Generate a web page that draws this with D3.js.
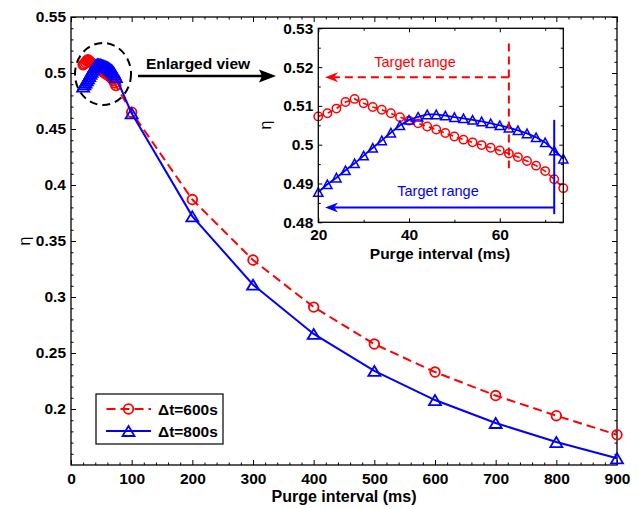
<!DOCTYPE html>
<html>
<head>
<meta charset="utf-8">
<script src="https://cdn.jsdelivr.net/npm/d3@7"></script>
<style>
  html, body { margin: 0; padding: 0; background: #fff; }
  svg { display: block; }
</style>
</head>
<body>
<svg id="chart" width="643" height="509"></svg>
<script>
// ---- data -------------------------------------------------------------
// fine sweep of the purge interval (ms), shown in the enlarged panel
const purgeFine = [20, 22, 24, 26, 28, 30, 32, 34, 36, 38, 40, 42, 44, 46,
                   48, 50, 52, 54, 56, 58, 60, 62, 64, 66, 68, 70, 72, 74];
const eta600Fine = [0.5073, 0.5081, 0.5093, 0.5110, 0.5118, 0.5107, 0.5097, 0.5090,
                    0.5081, 0.5071, 0.5062, 0.5055, 0.5047, 0.5039, 0.5030, 0.5021,
                    0.5013, 0.5006, 0.4999, 0.4992, 0.4985, 0.4977, 0.4968, 0.4958,
                    0.4946, 0.4932, 0.4911, 0.4888];
const eta800Fine = [0.4878, 0.4898, 0.4915, 0.4934, 0.4952, 0.4972, 0.4992, 0.5011,
                    0.5031, 0.5050, 0.5064, 0.5072, 0.5078, 0.5078, 0.5075, 0.5071,
                    0.5068, 0.5064, 0.5060, 0.5055, 0.5050, 0.5044, 0.5037, 0.5029,
                    0.5019, 0.5006, 0.4985, 0.4964];
// coarse sweep of the purge interval (ms)
const purgeCoarse = [100, 200, 300, 400, 500, 600, 700, 800, 900];
const eta600Coarse = [0.465, 0.387, 0.333, 0.291, 0.258, 0.233, 0.212, 0.194, 0.177];
const eta800Coarse = [0.464, 0.372, 0.311, 0.267, 0.234, 0.208, 0.1875, 0.1705, 0.156];

const seriesNames = ["\u0394t=600s", "\u0394t=800s"];

// tick labels
const mainXTicks = [0, 100, 200, 300, 400, 500, 600, 700, 800, 900];
const mainYTicks = [0.2, 0.25, 0.3, 0.35, 0.4, 0.45, 0.5, 0.55];
const insetXTicks = [20, 40, 60];
const insetYTicks = [0.48, 0.49, 0.5, 0.51, 0.52, 0.53];

// target ranges marked in the enlarged panel
const target600 = { limit: 62, level: 0.5174, top: 0.5261, bottom: 0.4939, from: 21.5 };
const target800 = { limit: 72, level: 0.4838, top: 0.5064, bottom: 0.4821, from: 21.5 };

// ---- setup ------------------------------------------------------------
const FONT = "'Liberation Sans', Arial, Helvetica, sans-serif";
const RED = "#ff0000", BLUE = "#0000ff";
const svg = d3.select("#chart");

const x = d3.scaleLinear().domain([0, 900]).range([71, 617]);
const y = d3.scaleLinear().domain([0.15, 0.55]).range([465, 17]);

const xi = d3.scaleLinear().domain([20, 74]).range([318.3, 563.3]);
const yi = d3.scaleLinear().domain([0.48, 0.53]).range([222.3, 28.3]);

const zip = (a, b) => a.map((v, i) => [v, b[i]]);
const s600 = zip(purgeFine.concat(purgeCoarse), eta600Fine.concat(eta600Coarse));
const s800 = zip(purgeFine.concat(purgeCoarse), eta800Fine.concat(eta800Coarse));
const s600Fine = zip(purgeFine, eta600Fine);
const s800Fine = zip(purgeFine, eta800Fine);

function trianglePath(hw, h) {
  return `M0,${-h / 2}L${hw},${h / 2}L${-hw},${h / 2}Z`;
}

// boxed axes with inward ticks on all four sides
function boxAxes(g, xs, ys, cfg) {
  const [xl, xr] = xs.range();
  const [yb, yt] = ys.range();
  const styleAxis = a => {
    a.select(".domain").remove();
    a.selectAll("line").attr("stroke", "#000").attr("stroke-width", 1);
    a.selectAll("text").attr("font-size", cfg.fontSize).attr("font-weight", "bold")
      .attr("font-family", FONT).attr("fill", "#000");
  };
  const add = (axis, tx, ty, vals, len, fmt, pad) => {
    const a = g.append("g").attr("transform", `translate(${tx},${ty})`)
      .call(axis.tickValues(vals).tickSizeInner(-len).tickSizeOuter(0)
        .tickPadding(pad).tickFormat(fmt));
    styleAxis(a);
    return a;
  };
  const none = () => "";
  add(d3.axisBottom(xs), 0, yb, cfg.xMajor, cfg.major, cfg.xFmt, cfg.xPad);
  add(d3.axisBottom(xs), 0, yb, cfg.xMinor, cfg.minor, none, 0);
  add(d3.axisTop(xs), 0, yt, cfg.xMajor, cfg.major, none, 0);
  add(d3.axisTop(xs), 0, yt, cfg.xMinor, cfg.minor, none, 0);
  add(d3.axisLeft(ys), xl, 0, cfg.yMajor, cfg.major, cfg.yFmt, cfg.yPad);
  add(d3.axisLeft(ys), xl, 0, cfg.yMinor, cfg.minor, none, 0);
  add(d3.axisRight(ys), xr, 0, cfg.yMajor, cfg.major, none, 0);
  add(d3.axisRight(ys), xr, 0, cfg.yMinor, cfg.minor, none, 0);
  g.append("rect").attr("x", xl).attr("y", yt).attr("width", xr - xl).attr("height", yb - yt)
    .attr("fill", "none").attr("stroke", "#000").attr("stroke-width", cfg.frame);
}

const fmtNum = d => String(+d.toFixed(2));

// ---- main axes ----------------------------------------------------------
const gMain = svg.append("g");
boxAxes(gMain, x, y, {
  xMajor: mainXTicks, xMinor: d3.range(20, 900, 20).filter(v => v % 100 !== 0),
  yMajor: mainYTicks, yMinor: d3.range(0.16, 0.55, 0.01).filter(v => Math.abs(v * 20 - Math.round(v * 20)) > 1e-6),
  xFmt: d => String(d), yFmt: fmtNum,
  major: 5, minor: 2.5, xPad: 8, yPad: 5, fontSize: "15.5px", frame: 1.3
});

gMain.append("text").attr("x", 344).attr("y", 502).attr("text-anchor", "middle")
  .attr("font-family", FONT).attr("font-weight", "bold").attr("font-size", "16px")
  .text("Purge interval (ms)");
gMain.append("text").attr("transform", "translate(30,241) rotate(-90)").attr("text-anchor", "middle")
  .attr("font-family", FONT).attr("font-size", "16px").text("\u03b7");

// ---- main series ----------------------------------------------------------
const line = d3.line().x(d => x(d[0])).y(d => y(d[1]));
const gData = gMain.append("g");
gData.append("path").datum(s600).attr("d", line).attr("fill", "none")
  .attr("stroke", RED).attr("stroke-width", 2).attr("stroke-dasharray", "9,5");
gData.selectAll("circle.m600").data(s600).join("circle").attr("class", "m600")
  .attr("cx", d => x(d[0])).attr("cy", d => y(d[1])).attr("r", 4.8)
  .attr("fill", "none").attr("stroke", RED).attr("stroke-width", 1.8);
gData.append("path").datum(s800).attr("d", line).attr("fill", "none")
  .attr("stroke", BLUE).attr("stroke-width", 2);
gData.selectAll("path.m800").data(s800).join("path").attr("class", "m800")
  .attr("d", trianglePath(6, 10))
  .attr("transform", d => `translate(${x(d[0])},${y(d[1])})`)
  .attr("fill", "none").attr("stroke", BLUE).attr("stroke-width", 1.8);

// ---- enlarged-view marker ----------------------------------------------
gMain.append("ellipse").attr("cx", 103).attr("cy", 74).attr("rx", 28).attr("ry", 31)
  .attr("fill", "none").attr("stroke", "#000").attr("stroke-width", 2)
  .attr("stroke-dasharray", "8,5");
gMain.append("line").attr("x1", 138).attr("y1", 76).attr("x2", 262).attr("y2", 76)
  .attr("stroke", "#000").attr("stroke-width", 2.5);
gMain.append("path").attr("d", "M276,76L259,69.5L262,76L259,82.5Z").attr("fill", "#000");
gMain.append("text").attr("x", 198).attr("y", 68.5).attr("text-anchor", "middle")
  .attr("font-family", FONT).attr("font-weight", "bold").attr("font-size", "15.5px")
  .text("Enlarged view");

// ---- inset --------------------------------------------------------------
const gIn = svg.append("g");
gIn.append("rect").attr("x", xi.range()[0]).attr("y", yi.range()[1])
  .attr("width", xi.range()[1] - xi.range()[0]).attr("height", yi.range()[0] - yi.range()[1])
  .attr("fill", "#fff");

const lineIn = d3.line().x(d => xi(d[0])).y(d => yi(d[1]));
gIn.append("path").datum(s600Fine).attr("d", lineIn).attr("fill", "none")
  .attr("stroke", RED).attr("stroke-width", 1.6).attr("stroke-dasharray", "6,4");
gIn.selectAll("circle").data(s600Fine).join("circle")
  .attr("cx", d => xi(d[0])).attr("cy", d => yi(d[1])).attr("r", 4.2)
  .attr("fill", "none").attr("stroke", RED).attr("stroke-width", 1.5);
gIn.append("path").datum(s800Fine).attr("d", lineIn).attr("fill", "none")
  .attr("stroke", BLUE).attr("stroke-width", 1.8);
gIn.selectAll("path.t800").data(s800Fine).join("path").attr("class", "t800")
  .attr("d", trianglePath(4.6, 8.5))
  .attr("transform", d => `translate(${xi(d[0])},${yi(d[1])})`)
  .attr("fill", "none").attr("stroke", BLUE).attr("stroke-width", 1.5);

// target-range guides
function arrowHead(g, tipX, yy, color) {
  g.append("path")
    .attr("d", `M${tipX},${yy}L${tipX + 13},${yy - 5}L${tipX + 9},${yy}L${tipX + 13},${yy + 5}Z`)
    .attr("fill", color);
}
gIn.append("line").attr("x1", xi(target600.limit)).attr("x2", xi(target600.limit))
  .attr("y1", yi(target600.top)).attr("y2", yi(target600.bottom))
  .attr("stroke", RED).attr("stroke-width", 2).attr("stroke-dasharray", "8,5");
gIn.append("line").attr("x1", xi(target600.limit)).attr("x2", xi(target600.from) + 9)
  .attr("y1", yi(target600.level)).attr("y2", yi(target600.level))
  .attr("stroke", RED).attr("stroke-width", 2).attr("stroke-dasharray", "8,5");
arrowHead(gIn, xi(target600.from), yi(target600.level), RED);
gIn.append("text").attr("x", 415).attr("y", 66.5).attr("text-anchor", "middle")
  .attr("font-family", FONT).attr("font-size", "14.5px").attr("fill", RED).text("Target range");

gIn.append("line").attr("x1", xi(target800.limit)).attr("x2", xi(target800.limit))
  .attr("y1", yi(target800.top)).attr("y2", yi(target800.bottom))
  .attr("stroke", BLUE).attr("stroke-width", 2);
gIn.append("line").attr("x1", xi(target800.limit)).attr("x2", xi(target800.from) + 9)
  .attr("y1", yi(target800.level)).attr("y2", yi(target800.level))
  .attr("stroke", BLUE).attr("stroke-width", 2);
arrowHead(gIn, xi(target800.from), yi(target800.level), BLUE);
gIn.append("text").attr("x", 438).attr("y", 196).attr("text-anchor", "middle")
  .attr("font-family", FONT).attr("font-size", "14.5px").attr("fill", BLUE).text("Target range");

boxAxes(gIn, xi, yi, {
  xMajor: insetXTicks, xMinor: [30, 50, 70],
  yMajor: insetYTicks, yMinor: [0.485, 0.495, 0.505, 0.515, 0.525],
  xFmt: d => String(d), yFmt: fmtNum,
  major: 4, minor: 2.5, xPad: 7, yPad: 5, fontSize: "15.5px", frame: 1.3
});
gIn.append("text").attr("x", 440).attr("y", 258.5).attr("text-anchor", "middle")
  .attr("font-family", FONT).attr("font-weight", "bold").attr("font-size", "15.5px")
  .text("Purge interval (ms)");
gIn.append("text").attr("transform", "translate(271,125) rotate(-90)").attr("text-anchor", "middle")
  .attr("font-family", FONT).attr("font-size", "16px").text("\u03b7");

// ---- legend -------------------------------------------------------------
const gLeg = svg.append("g");
gLeg.append("rect").attr("x", 96).attr("y", 394).attr("width", 127).attr("height", 50)
  .attr("fill", "#fff").attr("stroke", "#000").attr("stroke-width", 1.2);
const legRows = [
  { name: seriesNames[0], color: RED, dash: "9,5", yy: 409, marker: "circle" },
  { name: seriesNames[1], color: BLUE, dash: null, yy: 431, marker: "tri" }
];
legRows.forEach(r => {
  gLeg.append("line").attr("x1", 106).attr("x2", 151).attr("y1", r.yy).attr("y2", r.yy)
    .attr("stroke", r.color).attr("stroke-width", 2)
    .attr("stroke-dasharray", r.dash).attr("stroke-dashoffset", r.dash ? -0.5 : null);
  if (r.marker === "circle") {
    gLeg.append("circle").attr("cx", 128.5).attr("cy", r.yy).attr("r", 4.8)
      .attr("fill", "none").attr("stroke", r.color).attr("stroke-width", 1.8);
  } else {
    gLeg.append("path").attr("d", trianglePath(6, 10))
      .attr("transform", `translate(128.5,${r.yy})`)
      .attr("fill", "none").attr("stroke", r.color).attr("stroke-width", 1.8);
  }
  gLeg.append("text").attr("x", 158).attr("y", r.yy + 5.5)
    .attr("font-family", FONT).attr("font-weight", "bold").attr("font-size", "15.5px")
    .text(r.name);
});
</script>
</body>
</html>
